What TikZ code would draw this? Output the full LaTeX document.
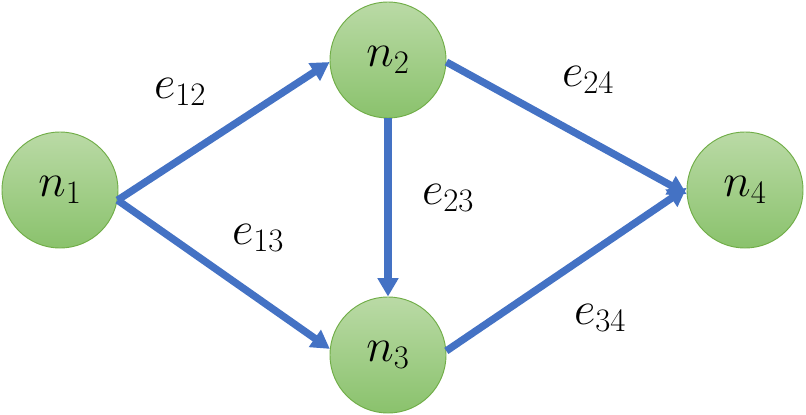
\documentclass[tikz,border=0pt]{standalone}
\usepackage{fix-cm}
\usetikzlibrary{arrows.meta}
\definecolor{edgeblue}{RGB}{68,114,196}
\definecolor{nodetop}{RGB}{186,218,166}
\definecolor{nodebot}{RGB}{138,194,108}
\definecolor{nodeline}{RGB}{112,173,71}
\tikzset{
  vertex/.style={circle, minimum size=3.48cm, inner sep=0pt, draw=nodeline, line width=0.8pt,
    top color=nodetop, bottom color=nodebot, font=\fontsize{40}{46}\selectfont},
  edge/.style={draw=edgeblue, line width=0.22cm, -{Triangle[length=0.55cm,width=0.6cm]}},
  elabel/.style={font=\fontsize{40}{46}\selectfont}
}
\begin{document}
\begin{tikzpicture}[x=0.03cm,y=-0.03cm]
  \useasboundingbox (0,0) rectangle (806,414);

  % nodes
  \node[vertex] (n1) at (60,190)  {$n_1$};
  \node[vertex] (n2) at (388,60)  {$n_2$};
  \node[vertex] (n3) at (388,355) {$n_3$};
  \node[vertex] (n4) at (745,190) {$n_4$};

  % edges
  \draw[edge] (n1.-10) -- (n2.182);
  \draw[edge] (n1.-10) -- (n3.174);
  \draw[edge] (n2.south) -- (n3.north);
  \draw[edge] (n2.-2) -- (n4.184);
  \draw[edge] (n3.4) -- (n4.178);

  % labels
  \node[elabel] (l12) at (180,92)  {$e_{12}$};
  \node[elabel] (l13) at (258,238) {$e_{13}$};
  \node[elabel] (l23) at (448,198) {$e_{23}$};
  \node[elabel] (l24) at (588,80)  {$e_{24}$};
  \node[elabel] (l34) at (600,318) {$e_{34}$};
\end{tikzpicture}
\end{document}
